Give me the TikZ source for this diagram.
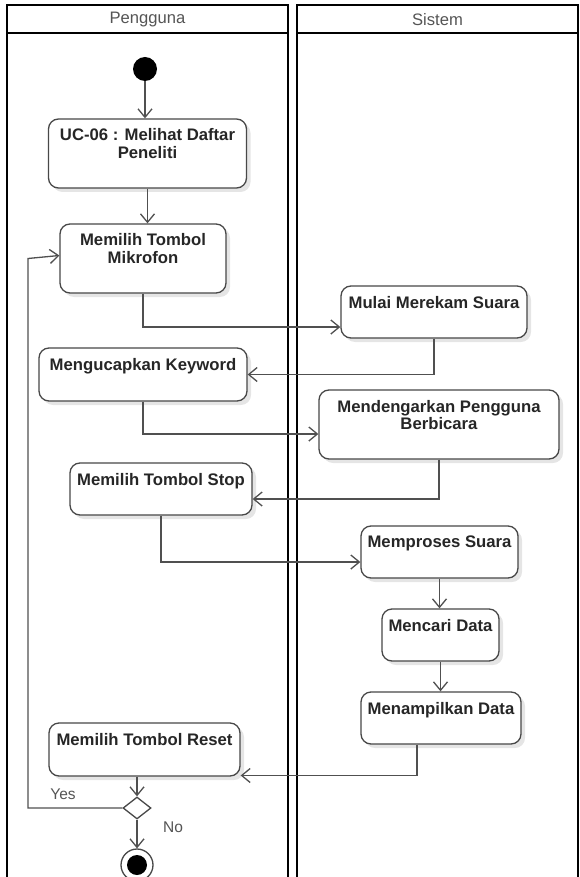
\documentclass[tikz,border=0pt]{standalone}
\usepackage{fontspec}
\setmainfont{Liberation Sans}
\usetikzlibrary{arrows.meta,shapes.geometric,shadows,calc}

\definecolor{edgegray}{HTML}{505050}
\definecolor{boxgray}{HTML}{484848}
\definecolor{inkgray}{HTML}{262626}
\definecolor{headgray}{HTML}{555555}

\begin{document}
\begin{tikzpicture}[x=1pt,y=-1pt,
  lane/.style={line width=2.6pt, draw=black, line join=miter},
  actbox/.style={draw=boxgray, line width=1.3pt, rounded corners=10pt, fill=white,
    inner sep=0pt, drop shadow={shadow xshift=4pt, shadow yshift=-4pt, fill=black, opacity=0.10}},
  acttext/.style={font=\bfseries\fontsize{16.7}{17.5}\selectfont, text=inkgray,
    align=center, inner sep=0pt, anchor=north},
  flow/.style={draw=edgegray, line width=1.3pt, -{Straight Barb[length=8.5pt,width=14pt]}},
  headtext/.style={font=\fontsize{16.6}{17}\selectfont, text=headgray, inner sep=0pt},
  guard/.style={font=\fontsize{15.5}{16}\selectfont, text=headgray, inner sep=0pt},
]
\useasboundingbox (0,0) rectangle (580,877);
\fill[white] (0,0) rectangle (580,877);

% swimlanes
\draw[lane] (7,885) -- (7,5) -- (288,5) -- (288,885);
\draw[lane] (7,33) -- (288,33);
\draw[lane] (297,885) -- (297,5) -- (578,5) -- (578,885);
\draw[lane] (297,33) -- (578,33);
\node[headtext] (hUser) at (147.5,19.5) {Pengguna};
\node[headtext] (hSys) at (437.5,19.5) {Sistem};

% start node
\node[circle, fill=black, minimum size=24pt, inner sep=0pt] (start) at (145,69) {};

% activities
\node[actbox, minimum width=198pt, minimum height=69pt] (uc) at (147.5,153.5) {};
\node[acttext] (tUc) at ([yshift=-10pt]uc.north) {UC-06 : Melihat Daftar\\Peneliti};

\node[actbox, minimum width=166pt, minimum height=69pt] (mik) at (143,258.5) {};
\node[acttext] (tMik) at ([yshift=-10pt]mik.north) {Memilih Tombol\\Mikrofon};

\node[actbox, minimum width=186pt, minimum height=52pt] (mulai) at (434,312) {};
\node[acttext] (tMulai) at ([yshift=-10.5pt]mulai.north) {Mulai Merekam Suara};

\node[actbox, minimum width=208pt, minimum height=53pt] (meng) at (143,374.5) {};
\node[acttext] (tMeng) at ([yshift=-10.5pt]meng.north) {Mengucapkan Keyword};

\node[actbox, minimum width=240pt, minimum height=69pt] (dengar) at (439,424.5) {};
\node[acttext] (tDengar) at ([yshift=-10.5pt]dengar.north) {Mendengarkan Pengguna\\Berbicara};

\node[actbox, minimum width=182pt, minimum height=52pt] (stop) at (161,489) {};
\node[acttext] (tStop) at ([yshift=-10.5pt]stop.north) {Memilih Tombol Stop};

\node[actbox, minimum width=157pt, minimum height=52pt] (proses) at (439.5,552) {};
\node[acttext] (tProses) at ([yshift=-10.5pt]proses.north) {Memproses Suara};

\node[actbox, minimum width=117pt, minimum height=52pt] (cari) at (440.5,635) {};
\node[acttext] (tCari) at ([yshift=-10.5pt]cari.north) {Mencari Data};

\node[actbox, minimum width=160pt, minimum height=52pt] (tampil) at (441,718) {};
\node[acttext] (tTampil) at ([yshift=-10.5pt]tampil.north) {Menampilkan Data};

\node[actbox, minimum width=191pt, minimum height=53pt] (reset) at (144.5,749.5) {};
\node[acttext] (tReset) at ([yshift=-10.5pt]reset.north) {Memilih Tombol Reset};

% decision and final node
\node[diamond, draw=boxgray, line width=1.3pt, fill=white, inner sep=0pt,
  minimum width=28pt, minimum height=22pt] (dec) at (137,808) {};
\node[circle, draw=boxgray, line width=1.3pt, fill=white, minimum size=32pt, inner sep=0pt] (fin) at (137,865) {};
\node[circle, fill=black, minimum size=20pt, inner sep=0pt] (finDot) at (fin) {};

\node[guard] (yes) at (63,794) {Yes};
\node[guard] (no) at (173,827) {No};

\coordinate (loopx) at (28,0);

% control flow
\draw[flow] (start.south) -- (start.south |- uc.north);
\draw[flow] (uc.south) -- (uc.south |- mik.north);
\draw[flow] (mik.south) |- ([yshift=-15pt]mulai.west);
\draw[flow] (mulai.south) |- (meng.east);
\draw[flow] (meng.south) |- ([yshift=-9.5pt]dengar.west);
\draw[flow] (dengar.south) |- ([yshift=-10pt]stop.east);
\draw[flow] (stop.south) |- ([yshift=-10pt]proses.west);
\draw[flow] (proses.south) -- (proses.south |- cari.north);
\draw[flow] (cari.south) -- (cari.south |- tampil.north);
\draw[flow] ([xshift=-24pt]tampil.south) |- ([yshift=-26pt]reset.east);
\draw[flow] (dec.north |- reset.south) -- (dec.north);
\draw[flow] (dec.west) -| (loopx |- mik.west) -- ([yshift=3pt]mik.west);
\draw[flow] (dec.south) -- (fin.north);
\end{tikzpicture}
\end{document}
